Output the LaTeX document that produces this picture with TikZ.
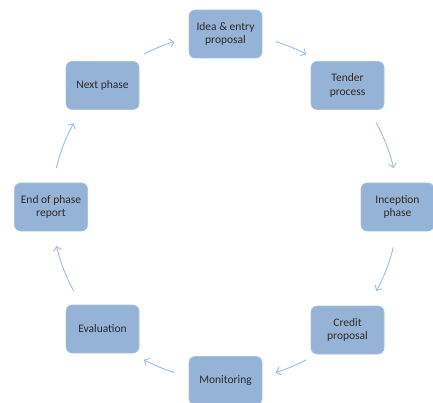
\documentclass[tikz,border=0pt]{standalone}
\usepackage{fontspec}
\setmainfont{Carlito}
\usetikzlibrary{arrows.meta}
\definecolor{boxfill}{HTML}{95B3D7}
\definecolor{arrowcol}{HTML}{9DBCE0}
\definecolor{txt}{HTML}{2B2B2B}
\begin{document}
\begin{tikzpicture}[x=1pt,y=-1pt,
  phasebox/.style={rectangle, rounded corners=6pt, fill=boxfill, draw=boxfill!80!white, line width=0.6pt,
    minimum width=73pt, minimum height=48pt, align=center, text=txt,
    font=\fontsize{11.5}{13.5}\selectfont, inner sep=2pt},
  cyc/.style={draw=arrowcol, line width=0.9pt, -{Straight Barb[length=4pt,width=8pt]}}]
\useasboundingbox (0,0) rectangle (433,403);
\node[phasebox] (idea) at (225.5,34) {Idea \& entry\\proposal};
\node[phasebox] (tender) at (347.5,85.5) {Tender\\process};
\node[phasebox] (incep) at (397.5,207) {Inception\\phase};
\node[phasebox] (credit) at (347.5,330) {Credit\\proposal};
\node[phasebox] (monit) at (225.5,380.5) {Monitoring};
\node[phasebox] (eval) at (102.5,329) {Evaluation};
\node[phasebox] (endp) at (51,207) {End of phase\\report};
\node[phasebox] (next) at (102.5,85.5) {Next phase};
\coordinate (c) at (225,207);
% arcs along the circle, radius 173 (y axis flipped: angles measured clockwise visually)
\draw[cyc] ([shift={(-73:173)}]c) arc[start angle=-73, end angle=-62, radius=173];
\draw[cyc] ([shift={(-29:173)}]c) arc[start angle=-29, end angle=-13, radius=173];
\draw[cyc] ([shift={(13.5:173)}]c) arc[start angle=13.5, end angle=29, radius=173];
\draw[cyc] ([shift={(62:173)}]c) arc[start angle=62, end angle=73, radius=173];
\draw[cyc] ([shift={(107:173)}]c) arc[start angle=107, end angle=118, radius=173];
\draw[cyc] ([shift={(151:173)}]c) arc[start angle=151, end angle=167, radius=173];
\draw[cyc] ([shift={(193:173)}]c) arc[start angle=193, end angle=209, radius=173];
\draw[cyc] ([shift={(242:173)}]c) arc[start angle=242, end angle=253, radius=173];
\end{tikzpicture}
\end{document}
